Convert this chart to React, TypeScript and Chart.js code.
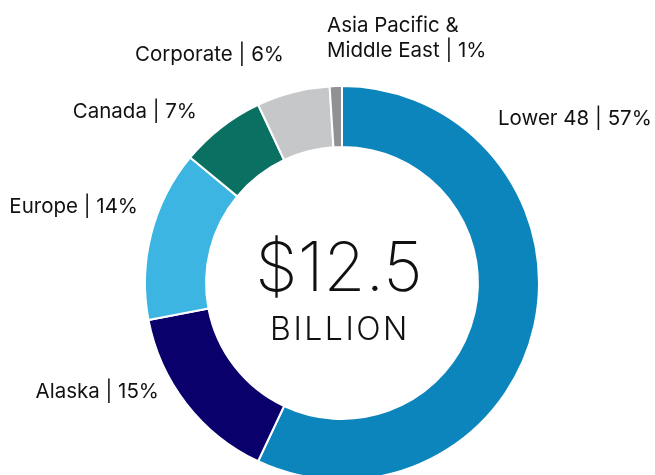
import React, { useEffect, useRef } from "react";
import { Chart, registerables } from "chart.js";

Chart.register(...registerables);

const categories = ["Lower 48", "Alaska", "Europe", "Canada", "Corporate", "Asia Pacific &\nMiddle East"];
const shares = [57, 15, 14, 7, 6, 1];
const colors = ["#0C85BC", "#0A006C", "#3DB5E2", "#0A7061", "#C6C7C9", "#8F9194"];
const centerValue = "$12.5";
const centerUnit = "BILLION";

// label anchor offsets relative to the doughnut centre (dx, dy, align)
const labelPlacement: [number, number, CanvasTextAlign][] = [
  [156, -164, "left"],
  [-183, 109, "right"],
  [-204, -76, "right"],
  [-145, -171, "right"],
  [-58, -228, "right"],
  [-15, -257, "left"],
];

const FONT = "Inter, 'Noto Sans', sans-serif";

const labelPlugin = {
  id: "outerLabels",
  afterDraw(chart: any) {
    const meta = chart.getDatasetMeta(0);
    const arc = meta.data[0];
    if (!arc) return;
    const cx = arc.x;
    const cy = arc.y;
    const ctx = chart.ctx;
    ctx.save();
    ctx.fillStyle = "#111111";
    ctx.textBaseline = "middle";
    ctx.font = `400 20.5px ${FONT}`;
    categories.forEach((cat, i) => {
      const [dx, dy, align] = labelPlacement[i];
      const lines = cat.split("\n");
      lines[lines.length - 1] += ` | ${shares[i]}%`;
      ctx.textAlign = align;
      lines.forEach((ln, j) => {
        ctx.fillText(ln, cx + dx, cy + dy + j * 25);
      });
    });
    ctx.textAlign = "center";
    ctx.textBaseline = "alphabetic";
    ctx.font = `200 68px ${FONT}`;
    ctx.fillText(centerValue, cx - 3, cy + 8);
    ctx.font = `300 32px ${FONT}`;
    (ctx as any).letterSpacing = "2.5px";
    ctx.fillText(centerUnit, cx - 2, cy + 57);
    ctx.restore();
  },
};

export default function App() {
  const ref = useRef<HTMLCanvasElement>(null);
  useEffect(() => {
    if (!ref.current) return;
    const chart = new Chart(ref.current, {
      type: "doughnut",
      data: {
        labels: categories,
        datasets: [
          {
            data: shares,
            backgroundColor: colors,
            borderColor: "#ffffff",
            borderWidth: 2,
          },
        ],
      },
      options: {
        responsive: false,
        animation: false,
        cutout: "69%",
        layout: { padding: { left: 144, top: 85, right: 115, bottom: 119 } },
        plugins: {
          legend: { display: false },
          tooltip: { enabled: false },
        },
      },
      plugins: [labelPlugin],
    });
    return () => chart.destroy();
  }, []);
  return (
    <div style={{ position: "fixed", left: 0, top: 0, width: 655, height: 475, overflow: "hidden", background: "#fff" }}>
      <canvas ref={ref} width={655} height={600} style={{ display: "block" }} />
    </div>
  );
}
